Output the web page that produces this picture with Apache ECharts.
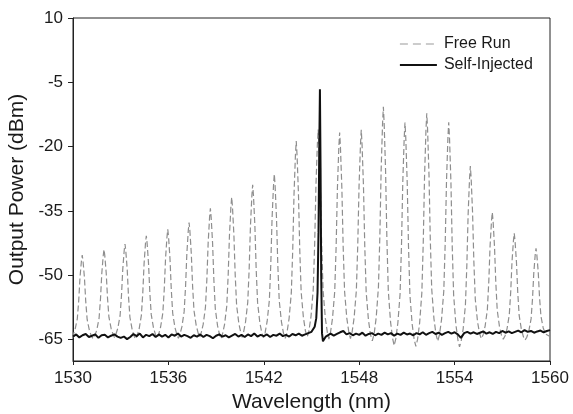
<!DOCTYPE html>
<html>
<head>
<meta charset="utf-8">
<script src="https://cdn.jsdelivr.net/npm/echarts@6/dist/echarts.min.js"></script>
<style>html,body{margin:0;padding:0;background:#fff}#c{width:573px;height:414px}</style>
</head>
<body>
<div id="c"></div>
<script>
// ---- Data ----
const xTicks = [1530, 1536, 1542, 1548, 1554, 1560];
const yTicks = [-65, -50, -35, -20, -5, 10];

// Free Run: longitudinal mode peaks (nm) and their peak power (dBm)
const peakWavelengths = [1530.58,1531.95,1533.27,1534.61,1535.96,1537.30,1538.64,1539.98,1541.30,1542.66,1544.04,
                         1545.42,1546.77,1548.13,1549.52,1550.88,1552.25,1553.63,1554.99,1556.37,1557.75,1559.12];
const peakPowers = [-45.3,-44.0,-42.7,-40.8,-39.3,-37.7,-34.4,-31.8,-28.9,-26.4,-18.7,
                    -16.0,-16.7,-16.1,-10.7,-14.4,-12.2,-14.3,-24.5,-35.3,-40.2,-43.7];
// Peak profile: offset from centre (nm) and fraction of height above floor
const profileOffsets = [-0.58,-0.45,-0.31,-0.22,-0.14,-0.05,0,0.05,0.14,0.22,0.31,0.45,0.58];
const profileLevels  = [0.03,0.10,0.23,0.45,0.73,0.93,1,0.93,0.73,0.45,0.23,0.10,0.03];
// Free Run floor between peaks (start, gaps 1..21, end)
const gapFloors = [-64.6,-64.8,-64.5,-64.9,-64.6,-64.7,-64.4,-64.8,-64.5,-64.6,-64.7,-64.4,
                   -64.9,-64.8,-65.3,-66.4,-66.6,-65.4,-66.7,-64.8,-64.9,-65.1,-64.3];

// Self-Injected: floor sampled every 0.2 nm, 1530.0 - 1545.0
const injLeftStart = 1530.0;
const injLeftPower = [
  -64.3,-63.8,-64.5,-64.0,-63.7,-64.4,-64.1,-63.8,-64.6,-64.0,
  -63.9,-64.5,-64.1,-63.8,-64.3,-64.6,-64.3,-64.9,-64.4,-63.7,
  -64.2,-63.6,-64.5,-63.9,-64.2,-63.7,-64.4,-63.8,-64.3,-63.9,
  -64.5,-63.8,-64.1,-63.6,-64.3,-63.9,-64.2,-64.6,-64.0,-64.3,
  -63.8,-64.4,-63.9,-64.2,-64.7,-64.1,-63.8,-64.3,-64.0,-64.5,
  -64.1,-63.7,-64.3,-63.9,-64.4,-63.8,-64.2,-63.6,-64.3,-63.9,
  -64.2,-63.8,-64.4,-63.9,-64.1,-63.6,-64.2,-63.9,-64.3,-63.7,
  -64.0,-63.6,-64.1,-63.8,-63.5,-63.2
];
// Self-Injected lasing peak
const injPeakWl  = [1545.1,1545.2,1545.3,1545.38,1545.44,1545.49,1545.53,1545.57,1545.61,1545.66,1545.72,1545.8,1545.9];
const injPeakPow = [-62.8,-62.0,-60.0,-54.0,-40.0,-20.0,-6.6,-25.0,-50.0,-63.5,-65.4,-65.0,-64.3];
// Self-Injected floor sampled every 0.2 nm, 1546.0 - 1560.0
const injRightStart = 1546.0;
const injRightPower = [
  -63.9,-63.6,-64.1,-63.7,-63.3,-63.0,-63.8,-63.5,-64.0,-63.6,
  -63.9,-63.4,-64.1,-63.7,-63.5,-64.0,-63.6,-63.9,-63.4,-63.8,
  -63.5,-64.1,-63.6,-63.9,-63.4,-63.8,-63.6,-64.0,-63.5,-63.8,
  -63.3,-63.9,-63.5,-63.2,-63.7,-63.4,-63.9,-63.5,-63.2,-63.6,
  -63.3,-63.8,-64.6,-63.5,-63.2,-63.6,-63.3,-63.7,-63.4,-63.1,
  -63.6,-63.3,-63.7,-63.2,-63.5,-63.0,-63.4,-63.1,-63.5,-63.2,
  -62.9,-63.3,-62.8,-63.2,-63.0,-63.4,-63.1,-62.9,-63.3,-63.0,
  -62.8
];
const step = 0.2;

// ---- Build series tables ----
const freeRun = [[1530, gapFloors[0]]];
peakWavelengths.forEach((c, i) => {
  const h = peakPowers[i];
  profileOffsets.forEach((o, k) => {
    const floor = o < 0 ? gapFloors[i] : gapFloors[i + 1];
    freeRun.push([c + o, floor + profileLevels[k] * (h - floor)]);
  });
  if (i < peakWavelengths.length - 1) {
    freeRun.push([(c + peakWavelengths[i + 1]) / 2, gapFloors[i + 1]]);
  }
});
freeRun.push([1560, gapFloors[gapFloors.length - 1]]);

const selfInjected = [];
injLeftPower.forEach((v, i) => selfInjected.push([+(injLeftStart + i * step).toFixed(2), v]));
injPeakWl.forEach((w, i) => selfInjected.push([w, injPeakPow[i]]));
injRightPower.forEach((v, i) => selfInjected.push([+(injRightStart + i * step).toFixed(2), v]));

const font = '"Liberation Sans", Arial, Helvetica, sans-serif';
const txt = '#1a1a1a';
const chart = echarts.init(document.getElementById('c'), null, {renderer: 'canvas'});
chart.setOption({
  animation: false,
  backgroundColor: '#fff',
  grid: {left: 73, right: 23, top: 18, bottom: 53, show: true, borderColor: '#222', borderWidth: 1,
         backgroundColor: 'transparent', containLabel: false, outerBoundsMode: 'none'},
  legend: {
    orient: 'vertical', left: 394, top: 31, itemWidth: 37, itemHeight: 12, itemGap: 5,
    textStyle: {fontFamily: font, fontSize: 16, color: txt, padding: [0, 0, 0, 2]},
    itemStyle: {color: 'rgba(0,0,0,0)', borderColor: 'rgba(0,0,0,0)', borderWidth: 0},
    data: [
      {name: 'Free Run', lineStyle: {type: [8, 5], color: '#9a9a9a', width: 1.2}},
      {name: 'Self-Injected', lineStyle: {color: '#111', width: 1.8}}
    ]
  },
  xAxis: {
    type: 'value', min: 1530, max: 1560, interval: 6,
    name: 'Wavelength (nm)', nameLocation: 'middle', nameGap: 31,
    nameTextStyle: {fontFamily: font, fontSize: 21, color: txt},
    axisLine: {onZero: false, lineStyle: {color: '#222', width: 1}},
    axisTick: {show: true, length: 4, lineStyle: {color: '#222'}, customValues: xTicks},
    axisLabel: {fontFamily: font, fontSize: 17, color: txt, margin: 9, customValues: xTicks,
                formatter: v => String(v)},
    splitLine: {show: false}
  },
  yAxis: {
    type: 'value', min: -70, max: 10, interval: 5,
    name: 'Output Power (dBm)', nameLocation: 'middle', nameGap: 39,
    nameTextStyle: {fontFamily: font, fontSize: 21, color: txt},
    axisLine: {show: true, onZero: false, lineStyle: {color: '#222', width: 1}},
    axisTick: {show: true, length: 5, lineStyle: {color: '#222'}, customValues: yTicks},
    axisLabel: {fontFamily: font, fontSize: 17, color: txt, margin: 10, customValues: yTicks,
                formatter: v => String(v)},
    splitLine: {show: false}
  },
  series: [
    {
      name: 'Free Run', type: 'line', data: freeRun, symbol: 'none', showSymbol: false,
      lineStyle: {color: '#8e8e8e', width: 1.2, type: [6, 3]}, itemStyle: {color: '#8e8e8e'}, z: 2
    },
    {
      name: 'Self-Injected', type: 'line', data: selfInjected, symbol: 'none', showSymbol: false,
      lineStyle: {color: '#111', width: 2}, itemStyle: {color: '#111'}, z: 3
    }
  ]
});
</script>
</body>
</html>
